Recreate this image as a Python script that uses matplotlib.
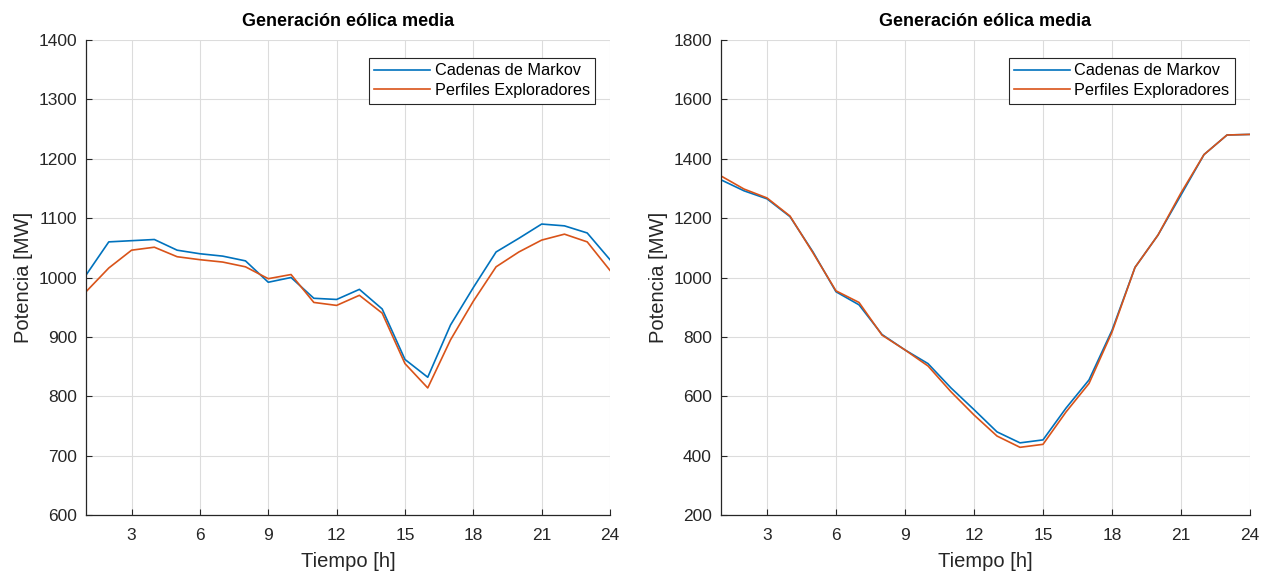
import matplotlib
matplotlib.use("Agg")
import matplotlib.pyplot as plt

plt.rcParams["font.family"] = ["Liberation Sans", "DejaVu Sans"]

HOURS = list(range(1, 25))

# panel 1: mean wind generation [MW]
MARKOV_A = [1004, 1060, 1062, 1064, 1046, 1040, 1036, 1028, 992, 1000, 965, 963,
            980, 947, 862, 832, 920, 983, 1043, 1066, 1090, 1087, 1075, 1030]
PERFILES_A = [976, 1016, 1046, 1051, 1035, 1030, 1026, 1018, 998, 1005, 958, 953,
              970, 940, 855, 814, 895, 960, 1018, 1043, 1063, 1073, 1060, 1012]

# panel 2: mean wind generation [MW]
MARKOV_B = [1329, 1292, 1265, 1205, 1086, 952, 908, 808, 756, 710, 628, 555,
            480, 443, 453, 560, 655, 822, 1034, 1143, 1278, 1414, 1480, 1482]
PERFILES_B = [1342, 1298, 1268, 1207, 1083, 955, 916, 806, 756, 702, 615, 537,
              466, 428, 438, 547, 643, 816, 1034, 1143, 1285, 1414, 1480, 1482]

X_TICKS = [3, 6, 9, 12, 15, 18, 21, 24]
C_BLUE = "#0072BD"
C_ORANGE = "#D95319"
C_TEXT = "#262626"


def style_axes(ax, ylim, ystep):
    ax.set_xlim(1, 24)
    ax.set_ylim(*ylim)
    ax.set_xticks(X_TICKS)
    ax.set_yticks(range(ylim[0], ylim[1] + 1, ystep))
    ax.grid(True, color="#dcdcdc", linewidth=0.8)
    ax.set_axisbelow(True)
    for s in ("top", "right"):
        ax.spines[s].set_visible(False)
    for s in ("left", "bottom"):
        ax.spines[s].set_color(C_TEXT)
        ax.spines[s].set_linewidth(0.9)
    ax.tick_params(direction="in", length=4, width=0.8, labelsize=12.5,
                   colors=C_TEXT, labelcolor=C_TEXT)
    ax.tick_params(axis="x", pad=9.5)
    ax.tick_params(axis="y", pad=6.5)
    ax.set_title("Generación eólica media", fontsize=13, fontweight="bold", pad=10)
    ax.set_xlabel("Tiempo [h]", fontsize=14.5, color=C_TEXT, labelpad=6)
    ax.set_ylabel("Potencia [MW]", fontsize=14.5, color=C_TEXT, labelpad=4)


fig = plt.figure(figsize=(12.72, 5.73), dpi=100)
ax1 = fig.add_axes([86 / 1272, 58 / 573, 524 / 1272, 475 / 573])
ax2 = fig.add_axes([721 / 1272, 58 / 573, 529 / 1272, 475 / 573])

for ax, markov, perfiles, ylim, ystep in [
    (ax1, MARKOV_A, PERFILES_A, (600, 1400), 100),
    (ax2, MARKOV_B, PERFILES_B, (200, 1800), 200),
]:
    ax.plot(HOURS, markov, color=C_BLUE, linewidth=1.2, label="Cadenas de Markov")
    ax.plot(HOURS, perfiles, color=C_ORANGE, linewidth=1.2, label="Perfiles Exploradores")
    style_axes(ax, ylim, ystep)
    leg = ax.legend(loc="upper right", bbox_to_anchor=(0.972, 0.963), borderaxespad=0,
                    fontsize=11.7, fancybox=False, framealpha=1, edgecolor=C_TEXT,
                    handlelength=3.4, handletextpad=0.3, borderpad=0.35, labelspacing=0.3)
    leg.get_frame().set_linewidth(0.8)

fig.savefig("out.png", dpi=100)
